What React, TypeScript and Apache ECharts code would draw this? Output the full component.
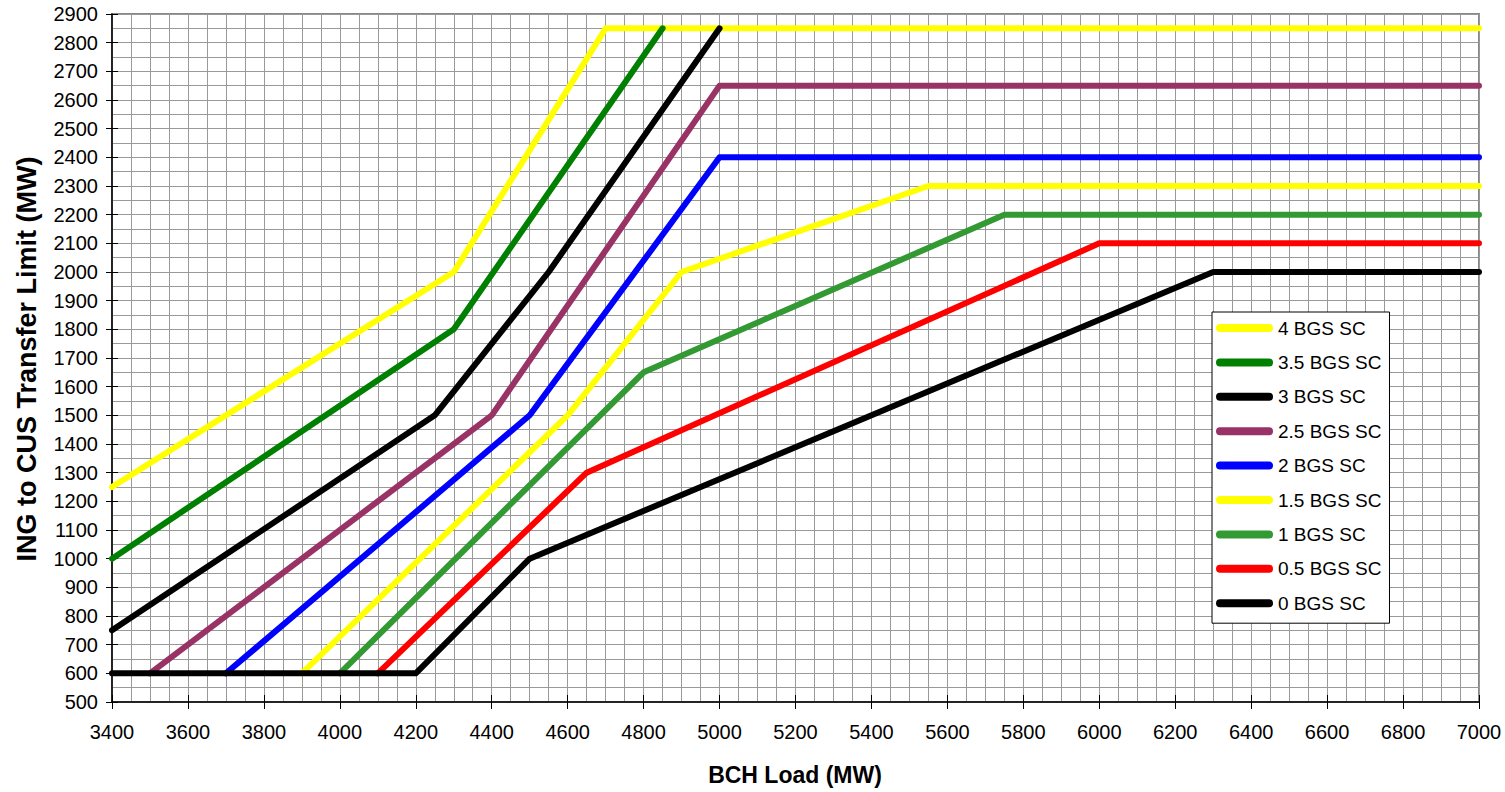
import React, { useEffect, useRef } from "react";
import * as echarts from "echarts";

const xTicks = { min: 3400, max: 7000, interval: 200 };
const yTicks = { min: 500, max: 2900, interval: 100 };

const names = ["4 BGS SC", "3.5 BGS SC", "3 BGS SC", "2.5 BGS SC", "2 BGS SC", "1.5 BGS SC", "1 BGS SC", "0.5 BGS SC", "0 BGS SC"];
const colors = ["#FFFF00", "#008000", "#000000", "#993366", "#0000FF", "#FFFF00", "#339933", "#FF0000", "#000000"];

const x40 = [3400, 4300, 4700, 7000];
const y40 = [1250, 2000, 2850, 2850];
const x35 = [3400, 4300, 4850];
const y35 = [1000, 1800, 2850];
const x30 = [3400, 4250, 4550, 5000];
const y30 = [750, 1500, 2000, 2850];
const x25 = [3500, 4400, 5000, 7000];
const y25 = [600, 1500, 2650, 2650];
const x20 = [3700, 4500, 5000, 7000];
const y20 = [600, 1500, 2400, 2400];
const x15 = [3900, 4600, 4900, 5550, 7000];
const y15 = [600, 1500, 2000, 2300, 2300];
const x10 = [4000, 4800, 5750, 7000];
const y10 = [600, 1650, 2200, 2200];
const x05 = [4100, 4650, 6000, 7000];
const y05 = [600, 1300, 2100, 2100];
const x00 = [3400, 4200, 4500, 6300, 7000];
const y00 = [600, 600, 1000, 2000, 2000];

const seriesX = [x40, x35, x30, x25, x20, x15, x10, x05, x00];
const seriesY = [y40, y35, y30, y25, y20, y15, y10, y05, y00];

const FONT = "Arial, 'Liberation Sans', sans-serif";

export default function App() {
  const ref = useRef<HTMLDivElement>(null);
  useEffect(() => {
    if (!ref.current) return;
    const chart = echarts.init(ref.current, null, { renderer: "svg" });
    const gridLine = { lineStyle: { color: "#999999", width: 1 } };
    const plain = (v: number) => String(v);
    const option: any = {
      animation: false,
      backgroundColor: "#ffffff",
      grid: { left: 112, right: 26, top: 14, bottom: 90, show: true, borderColor: "#888888", borderWidth: 2, backgroundColor: "transparent" },
      xAxis: [
        {
          type: "value", ...xTicks, position: "bottom",
          axisLine: { show: true, onZero: false, lineStyle: { color: "#000", width: 1.5 } },
          axisTick: { show: true, inside: false, length: 7, lineStyle: { color: "#000" } },
          axisLabel: { fontSize: 20, color: "#000", margin: 20, fontFamily: FONT, formatter: plain },
          splitLine: { show: true, ...gridLine },
          minorTick: { show: false, splitNumber: 4 },
          minorSplitLine: { show: true, ...gridLine },
        },
        {
          type: "value", ...xTicks, position: "bottom",
          axisLine: { show: false },
          axisTick: { show: true, inside: true, length: 7, lineStyle: { color: "#000" } },
          axisLabel: { show: false },
          splitLine: { show: false },
        },
      ],
      yAxis: [
        {
          type: "value", ...yTicks, position: "left",
          axisLine: { show: true, onZero: false, lineStyle: { color: "#000", width: 1.5 } },
          axisTick: { show: true, inside: false, length: 6, lineStyle: { color: "#000" } },
          axisLabel: { fontSize: 20, color: "#000", margin: 14, fontFamily: FONT, formatter: plain },
          splitLine: { show: true, ...gridLine },
          minorTick: { show: false, splitNumber: 2 },
          minorSplitLine: { show: true, ...gridLine },
        },
        {
          type: "value", ...yTicks, position: "left",
          axisLine: { show: false },
          axisTick: { show: true, inside: true, length: 6, lineStyle: { color: "#000" } },
          axisLabel: { show: false },
          splitLine: { show: false },
        },
      ],
      legend: {
        orient: "vertical",
        left: 1212,
        top: 312,
        padding: [6, 8, 10, 4],
        backgroundColor: "#ffffff",
        borderColor: "#000000",
        borderWidth: 1,
        borderRadius: 0,
        itemWidth: 57,
        itemHeight: 8,
        itemGap: 14.4,
        icon: "path://M4,0 L53,0 A4,4 0 0 1 53,8 L4,8 A4,4 0 0 1 4,0 Z",
        textStyle: { fontSize: 19, color: "#000", fontFamily: FONT, lineHeight: 20 },
        data: names,
      },
      graphic: [
        {
          type: "text", x: 27, y: 359, rotation: Math.PI / 2,
          style: { text: "ING to CUS Transfer Limit (MW)", fontSize: 27, fontWeight: "bold", fontFamily: FONT, fill: "#000", textAlign: "center", textVerticalAlign: "middle" },
        },
        {
          type: "text", x: 795, y: 775,
          style: { text: "BCH Load (MW)", fontSize: 23, fontWeight: "bold", fontFamily: FONT, fill: "#000", textAlign: "center", textVerticalAlign: "middle" },
        },
      ],
      series: names.map((name, i) => ({
        name,
        type: "line",
        xAxisIndex: 0,
        yAxisIndex: 0,
        symbol: "none",
        showSymbol: false,
        color: colors[i],
        lineStyle: { color: colors[i], width: 6, cap: "round", join: "round" },
        data: seriesX[i].map((x, k) => [x, seriesY[i][k]]),
      })),
    };
    chart.setOption(option);
    return () => chart.dispose();
  }, []);
  return <div ref={ref} style={{ position: "fixed", left: 0, top: 0, width: 1505, height: 792 }} />;
}
